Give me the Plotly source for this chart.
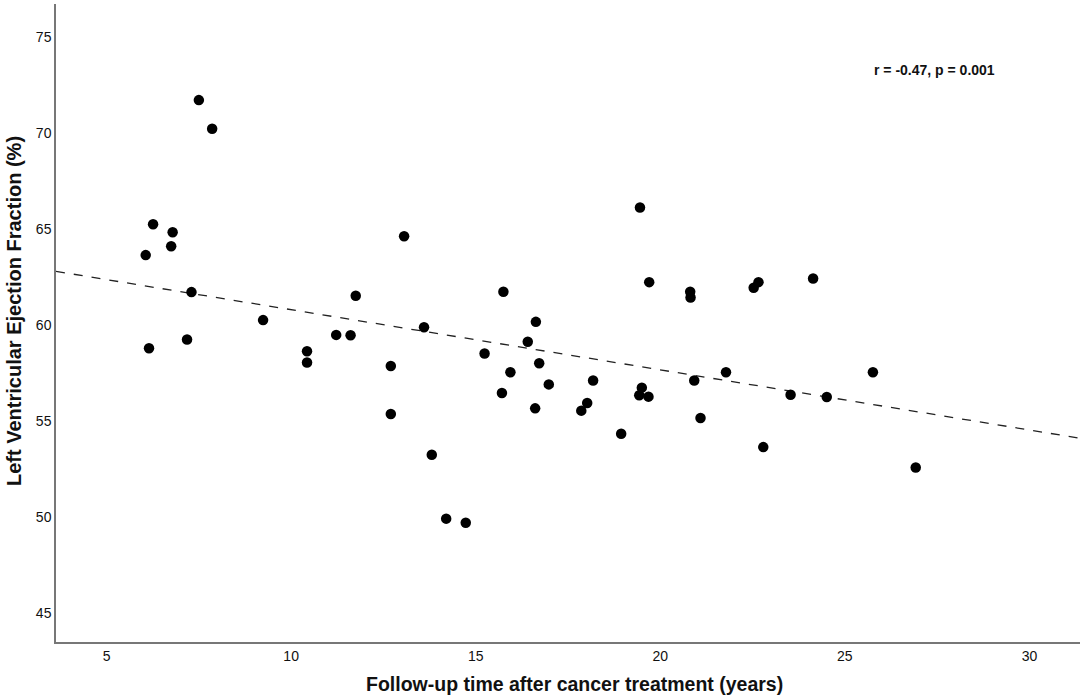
import plotly.graph_objects as go

# Follow-up time (years) and LVEF (%)
followup_years = [7.50, 7.86, 6.26, 6.79, 6.75, 6.06, 7.30, 9.24, 11.75, 6.15,
                  7.18, 10.43, 10.43, 11.22, 11.61, 19.45, 13.06, 19.70, 20.81, 20.82,
                  15.75, 13.60, 16.63, 16.41, 15.24, 16.72, 12.70, 15.94, 18.18, 20.92,
                  16.98, 19.50, 19.43, 19.68, 15.71, 18.02, 17.86, 16.61, 12.70, 21.09,
                  18.94, 13.81, 14.20, 14.73, 22.66, 22.53, 24.14, 21.78, 25.76, 23.53,
                  24.51, 22.79, 26.92]
lvef_pct = [71.73, 70.24, 65.26, 64.84, 64.11, 63.65, 61.72, 60.26, 61.53, 58.79,
            59.25, 58.64, 58.05, 59.49, 59.47, 66.13, 64.63, 62.24, 61.74, 61.44,
            61.74, 59.89, 60.17, 59.13, 58.52, 58.01, 57.87, 57.54, 57.11, 57.11,
            56.91, 56.74, 56.34, 56.27, 56.46, 55.94, 55.54, 55.66, 55.37, 55.16,
            54.34, 53.24, 49.91, 49.70, 62.24, 61.95, 62.43, 57.54, 57.54, 56.37,
            56.25, 53.64, 52.58]

# Linear fit line (intercept, slope) and its x extent
fit_intercept = 63.94
fit_slope = -0.3136
fit_x = [3.63, 31.37]
fit_y = [fit_intercept + fit_slope * v for v in fit_x]

x_ticks = [5, 10, 15, 20, 25, 30]
y_ticks = [45, 50, 55, 60, 65, 70, 75]

W, H = 1084, 699
L, R, T, B = 56, 4, 4, 57
pw, ph = W - L - R, H - T - B

fig = go.Figure()
fig.add_trace(go.Scatter(x=fit_x, y=fit_y, mode="lines",
                         line=dict(color="#222222", width=1.3, dash="dash"),
                         hoverinfo="skip", showlegend=False))
fig.add_trace(go.Scatter(x=followup_years, y=lvef_pct, mode="markers",
                         marker=dict(color="black", size=10.5),
                         showlegend=False))

font_family = "Liberation Sans, Arial"
# correlation annotation
fig.add_annotation(x=(934 - L) / pw, y=(H - B - 70) / ph, xref="paper", yref="paper",
                   text="<b>r = -0.47, p = 0.001</b>", showarrow=False,
                   xanchor="center", yanchor="middle",
                   font=dict(family=font_family, size=14, color="#111"))
# axis titles
fig.add_annotation(x=(574 - L) / pw, y=0, xref="paper", yref="paper", yshift=-(684 - (H - B)),
                   text="<b>Follow-up time after cancer treatment (years)</b>", showarrow=False,
                   xanchor="center", yanchor="middle",
                   font=dict(family=font_family, size=19.5, color="#111"))
fig.add_annotation(x=0, y=(H - B - 311) / ph, xref="paper", yref="paper", xshift=-42,
                   text="<b>Left Ventricular Ejection Fraction (%)</b>", showarrow=False,
                   textangle=-90, xanchor="center", yanchor="middle",
                   font=dict(family=font_family, size=20, color="#111"))

fig.update_layout(
    width=W, height=H,
    margin=dict(l=L, r=R, t=T, b=B),
    paper_bgcolor="white", plot_bgcolor="white",
    font=dict(family=font_family, size=14, color="#111"),
    xaxis=dict(range=[3.63, 31.37], tickvals=x_ticks, showgrid=False, zeroline=False,
               showline=True, linecolor="#777777", linewidth=1.5, ticks="",
               automargin=False),
    yaxis=dict(range=[43.48, 76.74], tickvals=y_ticks, showgrid=False, zeroline=False,
               showline=True, linecolor="#777777", linewidth=1.5, ticks="",
               automargin=False),
)

fig.write_html("out.html", config={"displayModeBar": False},
               post_script="document.body.style.margin='0';")
